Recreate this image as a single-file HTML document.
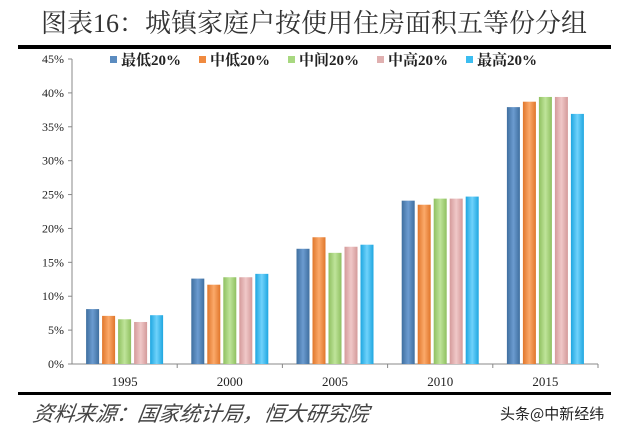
<!DOCTYPE html>
<html><head><meta charset="utf-8"><style>
body{margin:0;background:#fff;width:629px;height:435px;overflow:hidden;font-family:"Liberation Serif","Noto Serif CJK SC",serif}
</style></head><body>
<svg id="c" width="629" height="435" xmlns="http://www.w3.org/2000/svg">
<defs>
<linearGradient id="g0" x1="0" x2="1"><stop offset="0" stop-color="#3f6f9f"/><stop offset=".5" stop-color="#6b9bd0"/><stop offset="1" stop-color="#3f6f9f"/></linearGradient>
<linearGradient id="g1" x1="0" x2="1"><stop offset="0" stop-color="#e0762a"/><stop offset=".5" stop-color="#fba96a"/><stop offset="1" stop-color="#e0762a"/></linearGradient>
<linearGradient id="g2" x1="0" x2="1"><stop offset="0" stop-color="#8fc060"/><stop offset=".5" stop-color="#bfe49a"/><stop offset="1" stop-color="#8fc060"/></linearGradient>
<linearGradient id="g3" x1="0" x2="1"><stop offset="0" stop-color="#d49a9a"/><stop offset=".5" stop-color="#f0c8c8"/><stop offset="1" stop-color="#d49a9a"/></linearGradient>
<linearGradient id="g4" x1="0" x2="1"><stop offset="0" stop-color="#1ea6e0"/><stop offset=".5" stop-color="#6fd2fb"/><stop offset="1" stop-color="#1ea6e0"/></linearGradient>
</defs>
<text x="314" y="32" text-anchor="middle" font-size="26" fill="#333">图表16：城镇家庭户按使用住房面积五等份分组</text>
<rect x="18" y="45" width="593" height="4" fill="#000"/>
<rect x="18" y="392" width="593" height="3" fill="#000"/>
<text x="36" y="421" font-size="21" font-style="italic" fill="#444" font-family="'Noto Sans CJK SC',sans-serif" transform="skewX(-8) translate(55,0)">资料来源：国家统计局，恒大研究院</text>
<text x="500" y="419" font-size="15" fill="#222" font-family="'Noto Sans CJK SC',sans-serif">头条@中新经纬</text>
<g id="plot"></g>
<g id="legend"></g>
</svg>
<script>
const categories=["1995","2000","2005","2010","2015"];
const seriesNames=["最低20%","中低20%","中间20%","中高20%","最高20%"];
const sLow=[8.1,12.6,17.0,24.1,37.9];
const sMidLow=[7.1,11.7,18.7,23.5,38.7];
const sMid=[6.6,12.8,16.4,24.4,39.4];
const sMidHigh=[6.2,12.8,17.3,24.4,39.4];
const sHigh=[7.2,13.3,17.6,24.7,36.9];
const yTicks=[0,5,10,15,20,25,30,35,40,45];
const series=[sLow,sMidLow,sMid,sMidHigh,sHigh];
const NS="http://www.w3.org/2000/svg";
const x0=72,x1=598,y0=364,yTop=59,yMax=45;
const y=v=>y0-(v/yMax)*(y0-yTop);
const bw=(x1-x0)/categories.length;
const g=document.getElementById('plot');
function mk(t,a,p){const e=document.createElementNS(NS,t);for(const k in a)e.setAttribute(k,a[k]);(p||g).appendChild(e);return e;}
let ax=mk('line',{x1:x0,y1:yTop,x2:x0,y2:y0,stroke:'#888'});


yTicks.forEach(t=>{
  const l=mk('line',{x1:x0-4,x2:x0,y1:y(t),y2:y(t),stroke:'#888'});
  
  
  const tx=mk('text',{x:x0-8,y:y(t)+4,'text-anchor':'end','font-size':12,fill:'#222'});
  tx.textContent=t+'%';
  
  
});
let xa=mk('line',{x1:x0,y1:y0,x2:x1,y2:y0,stroke:'#888'});


categories.forEach((c,i)=>{
  const gx=x0+i*bw;
  const tk=mk('line',{x1:gx+bw,x2:gx+bw,y1:y0,y2:y0+4,stroke:'#888'});
  
  
  const tx=mk('text',{x:gx+bw/2,y:y0+22,'text-anchor':'middle','font-size':13,fill:'#222'});
  tx.textContent=c;
  
  
  const w=13,gap=3,tot=5*w+4*gap,start=gx+bw/2-tot/2;
  series.forEach((s,j)=>{
    const r=mk('rect',{x:start+j*(w+gap),y:y(s[i]),width:w,height:y0-y(s[i]),fill:'url(#g'+j+')'});
    
    
  });
});
const lg=document.getElementById('legend');
const cols=['#5b8cc0','#f08a40','#a8d880','#e0b0b0','#3cbdf0'];
const lx=[110,199,288,377,466];
seriesNames.forEach((n,j)=>{
  const r=mk('rect',{x:lx[j],y:56,width:7,height:7,fill:cols[j]},lg);
  
  
  const t=mk('text',{x:lx[j]+11,y:65,'font-size':15,'font-weight':'bold',fill:'#222'},lg);
  t.textContent=n;
  
  
});
</script>
</body></html>
